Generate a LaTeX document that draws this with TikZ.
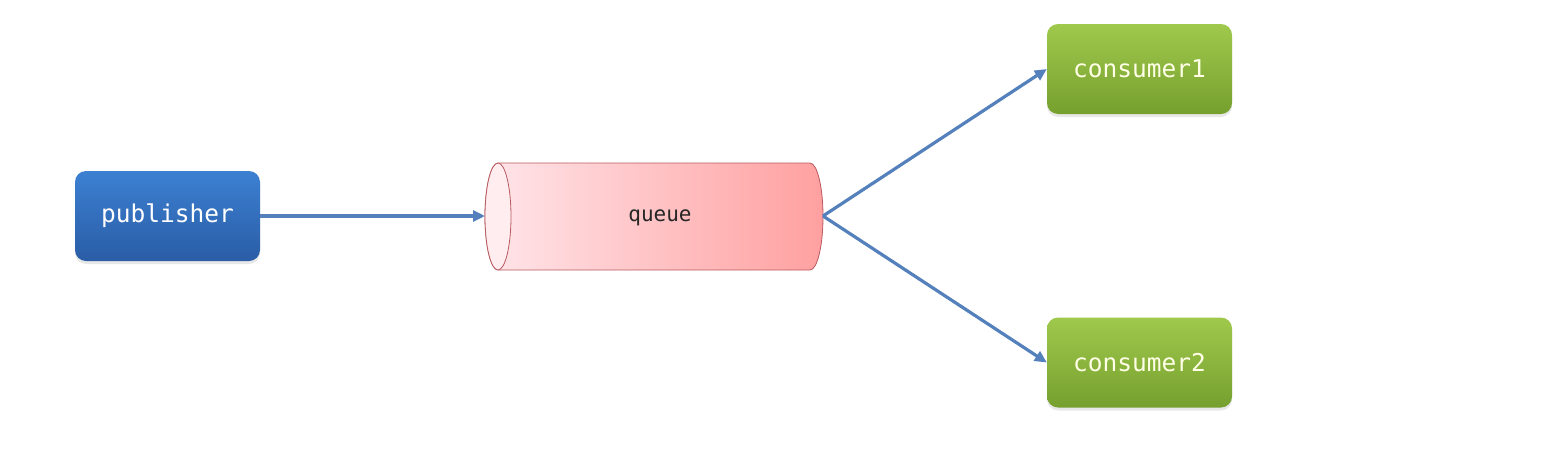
\documentclass[tikz,border=0pt]{standalone}
\usepackage{fontspec}
\setmonofont{DejaVu Sans Mono}
\usetikzlibrary{arrows.meta,shadows,shapes.geometric}
\definecolor{bluetop}{HTML}{3C80D2}
\definecolor{bluebot}{HTML}{2A5DA6}
\definecolor{greentop}{HTML}{9FC94C}
\definecolor{greenbot}{HTML}{76A02E}
\definecolor{arrowc}{HTML}{5480BC}
\definecolor{qleft}{HTML}{FFE6EA}
\definecolor{qright}{HTML}{FFA0A0}
\definecolor{qborder}{HTML}{B85A60}
\tikzset{
  box/.style={rounded corners=11pt, minimum width=185pt, minimum height=90pt,
    font=\ttfamily\fontsize{24.5}{28}\selectfont, inner sep=0pt,
    drop shadow={shadow xshift=0pt, shadow yshift=-3pt, opacity=0.18}},
  pubbox/.style={box, top color=bluetop, bottom color=bluebot, text=white},
  conbox/.style={box, top color=greentop, bottom color=greenbot, text=white!90!yellow},
  conn/.style={draw=arrowc, line width=3.2pt, -{Triangle[length=12pt,width=11pt]}},
}
\begin{document}
\begin{tikzpicture}[x=1pt,y=-1pt]
\useasboundingbox (0,0) rectangle (1556,472);
\node[pubbox] (pub) at (167.5,216) {publisher};
\node[conbox] (c1) at (1139.5,69) {consumer1};
\node[conbox] (c2) at (1139.5,362.5) {consumer2};
% queue cylinder
\path[left color=qleft, right color=qright, draw=qborder, line width=0.8pt]
  (498,163) -- (810,163) arc[start angle=-90, end angle=90, x radius=13, y radius=53.5]
  -- (498,270) arc[start angle=90, end angle=270, x radius=13, y radius=53.5] -- cycle;
\path[fill=qleft!70!white, draw=qborder, line width=0.8pt]
  (498,216.5) ellipse[x radius=13, y radius=53.5];
\node[font=\ttfamily\fontsize{21}{25}\selectfont, text=black!85] (q) at (660,218) {queue};
\coordinate (qin) at (485,216);
\coordinate (qout) at (823,216);
\draw[conn] (pub.east) -- (qin);
\draw[conn] (qout) -- (c1.west);
\draw[conn] (qout) -- (c2.west);
\end{tikzpicture}
\end{document}
